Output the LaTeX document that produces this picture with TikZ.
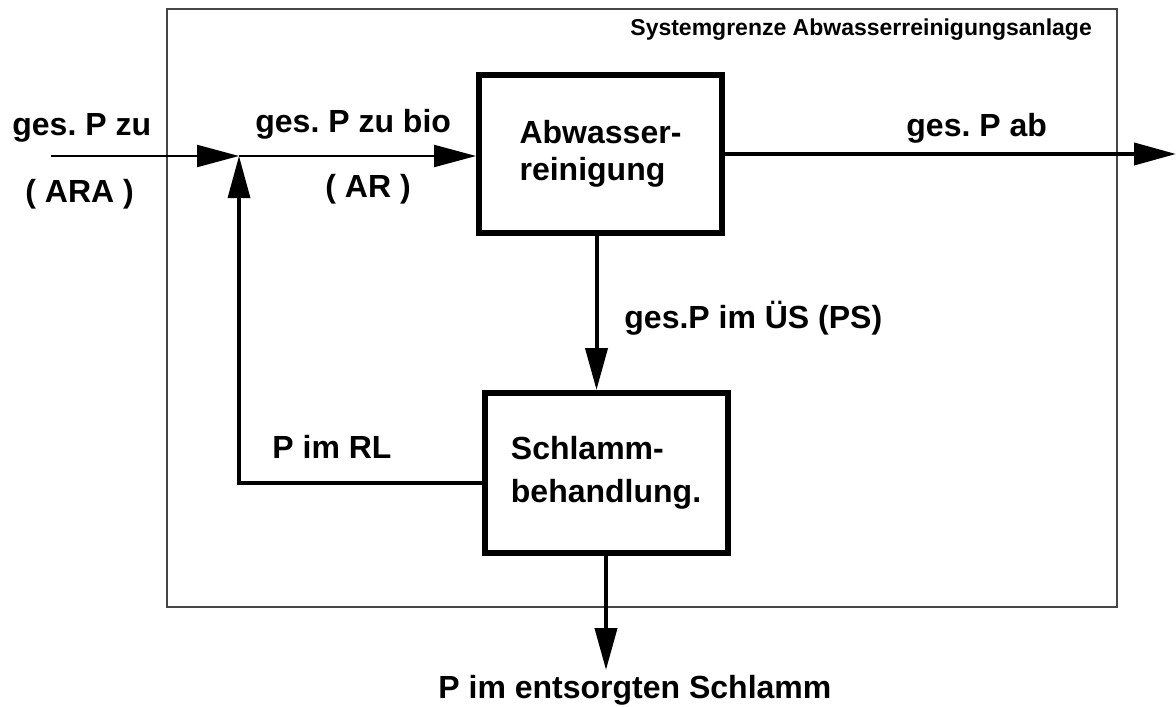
\documentclass[tikz,border=0pt]{standalone}
\usepackage{fontspec}
\setmainfont{Liberation Sans}
\usetikzlibrary{arrows.meta}
\frenchspacing
\definecolor{frameGray}{RGB}{70,70,70}
\tikzset{
  unit/.style ={rectangle, draw=black, line width=3pt, align=left,
                 font=\bfseries\fontsize{16}{18.5}\selectfont, inner sep=0pt,
                 minimum width=121.5pt},
  fl/.style   ={-{Triangle[length=21pt,width=11pt]}, line width=1.1pt},
  lbl/.style  ={font=\bfseries\fontsize{16}{19}\selectfont, inner sep=0pt, anchor=base west},
}

\begin{document}
\begin{tikzpicture}[x=0.5pt,y=-0.5pt]
\useasboundingbox (0,0) rectangle (1176,706);
% system boundary
\draw[frameGray, line width=0.7pt] (167,9) rectangle (1117,607);
\node[font=\bfseries\fontsize{11.5}{13}\selectfont, inner sep=0pt, anchor=base west]
  (sysname) at (630,36) {Systemgrenze Abwasserreinigungsanlage};
% process units
\node[unit, minimum height=79pt] (abw) at (600.5,154) {Abwasser-\\reinigung};
\node[unit, minimum height=80pt, font=\bfseries\fontsize{16}{21.5}\selectfont]
  (schl) at (606,473) {Schlamm-\\behandlung.};
% free ends of the flows
\coordinate (zu)   at (51,156);
\coordinate (knot) at (239,156);
\coordinate (ab)   at (1176,154);
\coordinate (sink) at (606,670);
% flows
\draw[fl] (zu) -- (knot);
\draw[fl] (knot) -- (knot -| abw.west);
\draw[fl, line width=2pt] (abw.east) -- (ab);
\draw[fl, line width=2pt] ([xshift=-2pt]abw.south) -- ([xshift=-2pt]abw.south |- schl.north);
\draw[fl, line width=2pt] (schl.south -| sink) -- (sink);
\draw[fl, line width=1.6pt] ([yshift=-5pt]schl.west) -| (knot);
% flow labels
\node[lbl] (pzu)   at (12,135)  {ges. P zu};
\node[lbl] (ara)   at (25,202)  {( ARA )};
\node[lbl] (pbio)  at (255,133) {ges. P zu bio};
\node[lbl] (ar)    at (325,197) {( AR )};
\node[lbl] (pab)   at (906,136) {ges. P ab};
\node[lbl] (pues)  at (624,328) {ges.P im ÜS (PS)};
\node[lbl] (prl)   at (272,458) {P im RL};
\node[lbl] (pschl) at (438,698) {P im entsorgten Schlamm};
\end{tikzpicture}
\end{document}
